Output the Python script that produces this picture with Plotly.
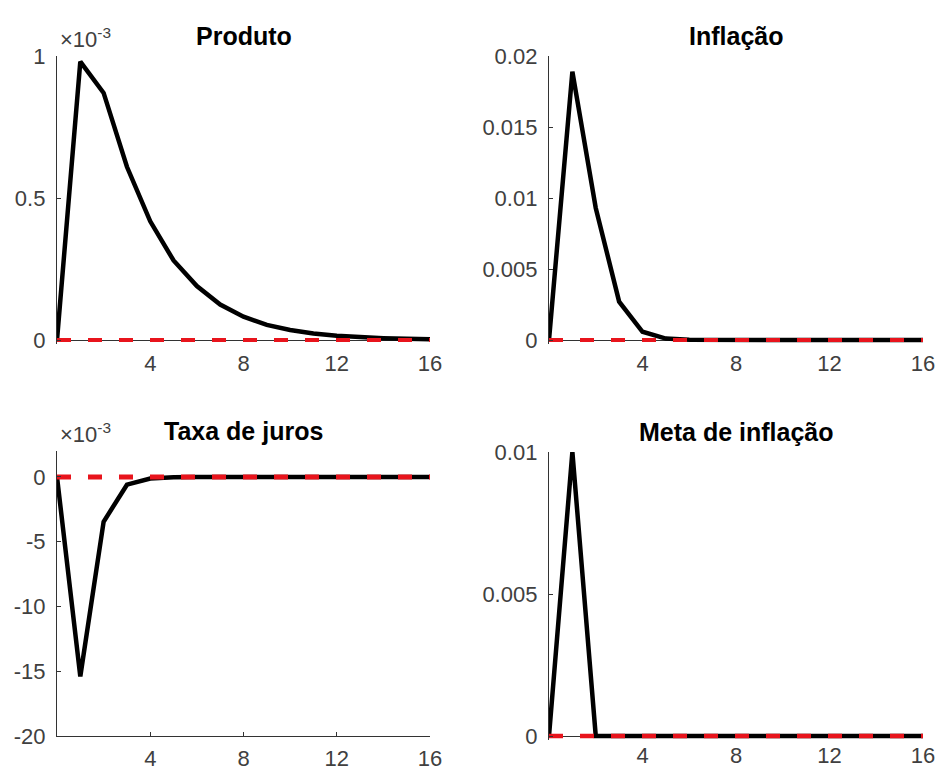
import plotly.graph_objects as go

W, H = 941, 774

periods = list(range(0, 17))

produto = [0, 0.000980, 0.000870, 0.000610, 0.000418, 0.000280, 0.000190, 0.000125,
           0.000082, 0.000053, 0.000035, 0.000023, 0.000015, 0.000010, 0.0000065,
           0.0000040, 0.0000030]
inflacao = [0, 0.0189, 0.0093, 0.0027, 0.00058, 0.00010, 0.00002, 0, 0, 0, 0, 0, 0, 0, 0, 0, 0]
juros = [0, -0.0154, -0.00346, -0.0006, -0.00013, -0.00002, 0, 0, 0, 0, 0, 0, 0, 0, 0, 0, 0]
meta = [0, 0.01, 0, 0, 0, 0, 0, 0, 0, 0, 0, 0, 0, 0, 0, 0, 0]
zero_line = [0] * 17

titles = ["Produto", "Inflação", "Taxa de juros", "Meta de inflação"]
series = [produto, inflacao, juros, meta]

x_ticks = [4, 8, 12, 16]
x_ticktext = ["4", "8", "12", "16"]

y_ranges = [[0, 0.001], [0, 0.02], [-0.020, 0.002], [0, 0.01]]
y_tickvals = [[0, 0.0005, 0.001],
              [0, 0.005, 0.01, 0.015, 0.02],
              [-0.020, -0.015, -0.010, -0.005, 0],
              [0, 0.005, 0.01]]
y_ticktext = [["0", "0.5", "1"],
              ["0", "0.005", "0.01", "0.015", "0.02"],
              ["-20", "-15", "-10", "-5", "0"],
              ["0", "0.005", "0.01"]]
exponent = ["×10<sup>-3</sup>", None, "×10<sup>-3</sup>", None]

# pixel boxes (left, right, top, bottom) of the value range
boxes = [(57, 430, 56, 340), (549, 923, 56, 340), (57, 430, 451, 736), (549, 923, 452, 736)]
# panels whose zero sits on the bottom edge get a few extra pixels so the dashed line is not clipped
pad_px = [4, 4, 0, 4]
x_standoff = [4, 4, 2, 0]
red_widths = [4, 4, 5, 4.5]

FONT = "Liberation Sans, Arial, Helvetica, sans-serif"
TICKCOL = "#404040"
AXCOL = "#333333"

fig = go.Figure()
layout = dict(width=W, height=H, margin=dict(l=0, r=0, t=0, b=0, pad=0), autosize=False,
              paper_bgcolor="white", plot_bgcolor="white", showlegend=False,
              font=dict(family=FONT, size=22, color=TICKCOL))
annotations = []

for i in range(4):
    l, r, t, b = boxes[i]
    xa = "x" if i == 0 else f"x{i+1}"
    ya = "y" if i == 0 else f"y{i+1}"
    xkey = "xaxis" if i == 0 else f"xaxis{i+1}"
    ykey = "yaxis" if i == 0 else f"yaxis{i+1}"
    lo, hi = y_ranges[i]
    p = pad_px[i]
    lo_ext = lo - (hi - lo) * p / (b - t)
    fig.add_trace(go.Scatter(x=periods, y=series[i], mode="lines",
                             line=dict(color="black", width=4.5), xaxis=xa, yaxis=ya))
    fig.add_trace(go.Scatter(x=periods, y=zero_line, mode="lines",
                             line=dict(color="#e8141c", width=red_widths[i], dash="14px,17px"),
                             xaxis=xa, yaxis=ya))
    padded = p > 0
    layout[xkey] = dict(domain=[l / W, r / W], range=[0, 16], anchor=ya,
                        tickvals=x_ticks, ticktext=x_ticktext,
                        showgrid=False, zeroline=False, showline=not padded,
                        linecolor=AXCOL, linewidth=1.3,
                        ticks="" if padded else "inside", ticklen=4, tickcolor=AXCOL,
                        tickfont=dict(family=FONT, size=22, color=TICKCOL),
                        ticklabelstandoff=x_standoff[i], automargin=False,
                        fixedrange=True)
    layout[ykey] = dict(domain=[1 - (b + p) / H, 1 - t / H], range=[lo_ext, hi], anchor=xa,
                        tickvals=y_tickvals[i], ticktext=y_ticktext[i],
                        showgrid=False, zeroline=padded, zerolinecolor=AXCOL, zerolinewidth=1.3,
                        showline=True, linecolor=AXCOL, linewidth=1.3,
                        ticks="inside", ticklen=4, tickcolor=AXCOL,
                        tickfont=dict(family=FONT, size=22, color=TICKCOL),
                        ticklabelstandoff=6, automargin=False, fixedrange=True)
    annotations.append(dict(text="<b>" + titles[i] + "</b>", xref="paper", yref="paper",
                            x=(l + r) / 2 / W, y=1 - (t - 20) / H, xanchor="center",
                            yanchor="middle", showarrow=False,
                            font=dict(family=FONT, size=25, color="black")))
    if exponent[i]:
        annotations.append(dict(text=exponent[i], xref="paper", yref="paper",
                                x=(l + 1) / W, y=1 - (t - 2) / H, xanchor="left",
                                yanchor="bottom", showarrow=False,
                                font=dict(family=FONT, size=22, color=TICKCOL)))

layout["annotations"] = annotations
fig.update_layout(**layout)
fig.write_html("out.html")
